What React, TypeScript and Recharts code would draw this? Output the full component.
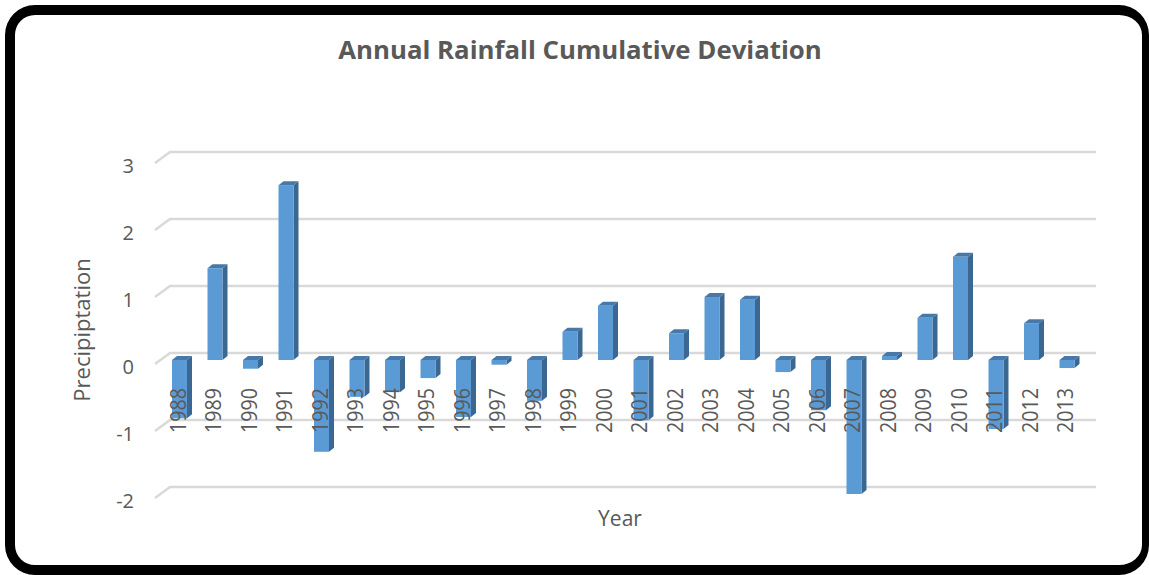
import React from 'react';
import { BarChart, Bar, XAxis, YAxis, CartesianGrid } from 'recharts';

const years = ['1988','1989','1990','1991','1992','1993','1994','1995','1996','1997','1998','1999','2000','2001','2002','2003','2004','2005','2006','2007','2008','2009','2010','2011','2012','2013'];
const deviation = [-0.87, 1.37, -0.13, 2.61, -1.37, -0.55, -0.48, -0.27, -0.85, -0.07, -0.61, 0.42, 0.81, -0.9, 0.4, 0.94, 0.9, -0.18, -0.75, -2.0, 0.06, 0.63, 1.54, -1.03, 0.55, -0.12];
const yTicks = [-2, -1, 0, 1, 2, 3];

const data = years.map((y, i) => ({ year: y, value: deviation[i] }));

const FONT = '"Open Sans", "Liberation Sans", sans-serif';
const TEXT = '#595959';

const Bar3D = (props: any) => {
  const { x, y, width, height } = props;
  const top = Math.min(y, y + height);
  const h = Math.abs(height);
  const dx = 5;
  const dy = 4;
  return (
    <g>
      <polygon
        points={`${x},${top} ${x + dx},${top - dy} ${x + width + dx},${top - dy} ${x + width},${top}`}
        fill="#4778A8"
      />
      <polygon
        points={`${x + width},${top} ${x + width + dx},${top - dy} ${x + width + dx},${top + h - dy} ${x + width},${top + h}`}
        fill="#3A6892"
      />
      <rect x={x} y={top} width={width} height={h} fill="#5B9BD5" />
    </g>
  );
};

const GridLine = (props: any) => {
  const { x1, y1, x2 } = props;
  return (
    <path
      d={`M${x1 - 7},${y1 + 4} L${x1 + 8},${y1 - 7} L${x2 + 11},${y1 - 7}`}
      stroke="#D9D9D9"
      strokeWidth={2.5}
      fill="none"
    />
  );
};

const XTick = (props: any) => {
  const { x, payload } = props;
  const ty = 433;
  const tx = x - 2;
  return (
    <text
      x={tx}
      y={ty}
      transform={`rotate(-90 ${tx} ${ty})`}
      textAnchor="start"
      dominantBaseline="central"
      fill={TEXT}
      fontSize={21}
      fontFamily={FONT}
      textLength={45}
      lengthAdjust="spacingAndGlyphs"
    >
      {payload.value}
    </text>
  );
};

const YTick = (props: any) => {
  const { y, payload } = props;
  return (
    <text
      x={134}
      y={y + 6}
      textAnchor="end"
      dominantBaseline="central"
      fill={TEXT}
      fontSize={20}
      fontFamily={FONT}
    >
      {payload.value}
    </text>
  );
};

export default function App() {
  return (
    <div style={{ position: 'absolute', left: 0, top: 0, width: 1149, height: 575, overflow: 'hidden', background: '#fff' }}>
      <div
        style={{
          position: 'absolute',
          left: 5,
          top: 5,
          width: 1144,
          height: 570,
          boxSizing: 'border-box',
          borderStyle: 'solid',
          borderColor: '#000',
          borderWidth: '10px 7px 10px 10px',
          borderRadius: 30,
        }}
      />
      <div
        style={{
          position: 'absolute',
          left: 0,
          top: 31,
          width: 1160,
          textAlign: 'center',
          fontFamily: FONT,
          fontWeight: 700,
          fontSize: 25.8,
          color: TEXT,
        }}
      >
        Annual Rainfall Cumulative Deviation
      </div>
      <div style={{ position: 'absolute', left: 0, top: 0 }}>
        <BarChart
          width={1149}
          height={575}
          data={data}
          margin={{ top: 159, bottom: 0, left: 0, right: 64 }}
          barCategoryGap={0}
        >
          <CartesianGrid vertical={false} horizontal={(p: any) => <GridLine key={p.key} {...p} />} />
          <XAxis
            dataKey="year"
            axisLine={false}
            tickLine={false}
            tick={<XTick />}
            height={81}
            interval={0}
          />
          <YAxis
            domain={[-2, 3]}
            ticks={yTicks}
            axisLine={false}
            tickLine={false}
            tick={<YTick />}
            width={162}
            interval={0}
          />
          <Bar dataKey="value" barSize={15} shape={<Bar3D />} isAnimationActive={false} />
        </BarChart>
      </div>
      <div
        style={{
          position: 'absolute',
          left: 81,
          top: 330,
          transform: 'translate(-50%, -50%) rotate(-90deg)',
          fontFamily: FONT,
          fontSize: 22,
          color: TEXT,
          whiteSpace: 'nowrap',
        }}
      >
        Precipiptation
      </div>
      <div
        style={{
          position: 'absolute',
          left: 620,
          top: 518,
          transform: 'translate(-50%, -50%)',
          fontFamily: FONT,
          fontSize: 21,
          color: TEXT,
          whiteSpace: 'nowrap',
        }}
      >
        Year
      </div>
    </div>
  );
}
